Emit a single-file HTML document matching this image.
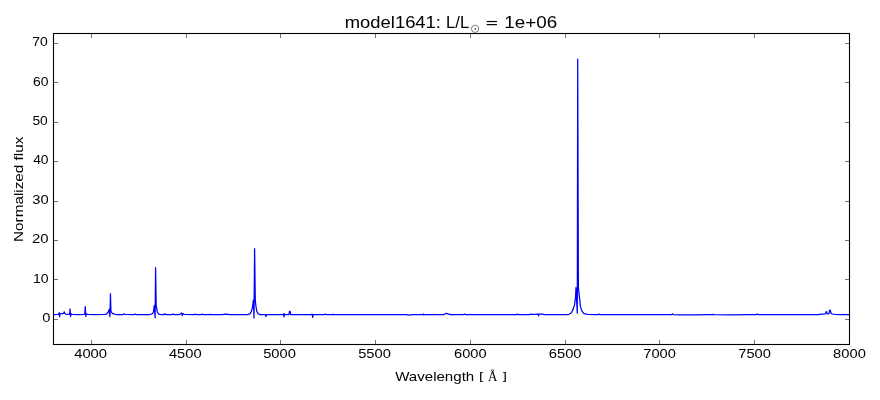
<!DOCTYPE html>
<html><head><meta charset="utf-8"><style>
html,body{margin:0;padding:0;background:#fff;width:880px;height:400px;overflow:hidden}
svg{display:block;will-change:transform}
text{font-family:"Liberation Sans",sans-serif;fill:#000}
</style></head><body>
<svg width="880" height="400" viewBox="0 0 880 400">
<rect width="880" height="400" fill="#fff"/>
<polyline points="53.50,314.60 57.50,314.40 58.70,314.30 59.20,312.70 59.60,316.75 60.10,313.80 62.00,313.60 63.60,313.40 64.20,311.80 64.70,313.30 65.60,314.10 67.50,314.40 69.60,314.10 70.00,308.95 70.50,316.50 71.10,313.90 72.00,314.40 78.00,314.70 83.50,314.50 84.80,314.10 85.25,306.60 85.80,316.50 86.40,313.90 87.50,314.50 95.00,314.70 104.00,314.50 106.50,314.10 108.00,312.50 109.20,309.40 109.90,316.70 110.45,293.70 110.95,311.30 111.75,312.70 113.00,313.70 114.40,314.10 116.00,314.50 123.00,314.50 124.00,313.90 125.00,314.50 134.50,314.60 135.30,314.00 136.20,314.60 148.00,314.70 150.50,314.50 152.50,313.50 153.50,311.70 154.30,305.50 155.10,317.80 155.60,267.70 156.20,306.10 157.25,311.70 158.70,314.10 160.50,314.50 164.00,314.50 164.80,313.70 165.60,314.50 172.30,314.50 173.00,314.00 173.70,314.50 179.50,314.50 181.00,313.50 181.80,313.00 182.30,315.60 182.80,313.60 184.00,314.30 194.50,314.60 195.20,314.10 195.90,314.60 201.50,314.60 202.20,314.10 202.90,314.60 209.50,314.60 210.20,314.20 210.90,314.60 222.00,314.60 226.00,314.10 230.00,314.60 247.50,314.60 249.90,313.80 251.30,311.70 252.30,308.20 253.00,303.30 253.40,300.10 254.00,317.90 254.60,248.70 255.30,300.60 256.20,308.20 256.90,311.70 258.30,313.80 260.00,314.60 265.30,314.60 265.90,316.50 266.50,314.60 283.20,314.50 283.60,313.70 284.00,316.90 284.35,313.90 284.80,314.50 289.00,314.50 289.45,311.30 290.15,311.30 290.60,314.50 311.50,314.60 312.20,314.10 312.70,317.50 313.30,314.50 324.50,314.60 325.20,314.10 325.90,314.60 332.50,314.60 333.20,314.20 333.90,314.60 405.50,314.60 409.30,315.20 412.50,314.60 423.00,314.60 423.40,314.00 423.90,315.00 424.40,314.60 443.50,314.60 445.50,313.70 446.60,313.30 448.00,313.90 450.50,314.70 463.60,314.60 464.40,314.00 465.20,314.60 516.50,314.60 517.30,314.10 518.10,314.60 529.50,314.60 530.30,314.10 531.20,314.30 536.80,314.30 538.20,313.80 538.60,315.80 539.20,314.20 543.00,314.20 543.60,314.40 544.30,314.60 566.00,314.60 569.00,314.30 571.40,312.70 573.20,309.10 574.60,304.60 575.50,297.40 576.00,287.50 577.30,313.10 577.70,59.20 578.40,288.10 579.50,297.40 580.40,306.40 581.80,310.90 584.00,313.60 587.60,314.30 598.00,314.60 599.00,314.10 600.00,314.60 671.70,314.60 672.50,313.80 673.30,314.60 680.00,314.85 695.00,314.85 708.00,314.70 712.00,314.60 713.00,314.40 714.00,314.70 730.00,314.80 750.00,314.70 756.50,314.60 757.25,313.90 758.00,314.60 818.00,314.60 822.00,314.20 825.60,313.80 826.20,311.70 826.60,311.70 827.10,313.60 828.80,313.80 829.70,310.20 830.30,310.20 831.00,313.40 832.50,314.00 835.00,314.40 840.00,314.60 849.50,314.60" fill="none" stroke="#0000ff" stroke-width="1.25" stroke-linejoin="round"/>
<path d="M91.50,344v-4M91.50,34v4M186.50,344v-4M186.50,34v4M280.50,344v-4M280.50,34v4M375.50,344v-4M375.50,34v4M470.50,344v-4M470.50,34v4M565.50,344v-4M565.50,34v4M659.50,344v-4M659.50,34v4M754.50,344v-4M754.50,34v4M849.50,344v-4M849.50,34v4M54,319.50h4M849,319.50h-4M54,279.50h4M849,279.50h-4M54,240.50h4M849,240.50h-4M54,201.50h4M849,201.50h-4M54,161.50h4M849,161.50h-4M54,122.50h4M849,122.50h-4M54,82.50h4M849,82.50h-4M54,43.50h4M849,43.50h-4" stroke="#737373" stroke-width="1" fill="none"/>
<rect x="53.5" y="33.5" width="796" height="311" fill="none" stroke="#000" stroke-width="1.1"/>
<circle cx="475.1" cy="28.8" r="3.65" fill="none" stroke="#000" stroke-width="0.5"/>
<circle cx="475.3" cy="29.1" r="0.75" fill="#000"/>
<rect x="486.7" y="20.95" width="10.3" height="1.15" fill="#000"/>
<rect x="486.7" y="24.05" width="10.3" height="1.15" fill="#000"/>
<text x="74.16" y="357.78" font-size="12.57" style="font-family:'Liberation Sans'" textLength="32.92" lengthAdjust="spacingAndGlyphs">4000</text>
<text x="168.91" y="357.78" font-size="12.57" style="font-family:'Liberation Sans'" textLength="32.66" lengthAdjust="spacingAndGlyphs">4500</text>
<text x="263.16" y="357.78" font-size="12.57" style="font-family:'Liberation Sans'" textLength="32.66" lengthAdjust="spacingAndGlyphs">5000</text>
<text x="358.16" y="357.78" font-size="12.57" style="font-family:'Liberation Sans'" textLength="32.66" lengthAdjust="spacingAndGlyphs">5500</text>
<text x="454.01" y="357.78" font-size="12.57" style="font-family:'Liberation Sans'" textLength="32.57" lengthAdjust="spacingAndGlyphs">6000</text>
<text x="548.75" y="357.78" font-size="12.57" style="font-family:'Liberation Sans'" textLength="32.83" lengthAdjust="spacingAndGlyphs">6500</text>
<text x="643.25" y="357.78" font-size="12.57" style="font-family:'Liberation Sans'" textLength="32.57" lengthAdjust="spacingAndGlyphs">7000</text>
<text x="738.25" y="357.78" font-size="12.57" style="font-family:'Liberation Sans'" textLength="32.57" lengthAdjust="spacingAndGlyphs">7500</text>
<text x="833.11" y="357.78" font-size="12.57" style="font-family:'Liberation Sans'" textLength="32.71" lengthAdjust="spacingAndGlyphs">8000</text>
<text x="32.29" y="45.78" font-size="12.57" style="font-family:'Liberation Sans'" textLength="15.51" lengthAdjust="spacingAndGlyphs">70</text>
<text x="33.04" y="85.78" font-size="12.57" style="font-family:'Liberation Sans'" textLength="15.50" lengthAdjust="spacingAndGlyphs">60</text>
<text x="32.45" y="124.88" font-size="12.36" style="font-family:'Liberation Sans'" textLength="15.34" lengthAdjust="spacingAndGlyphs">50</text>
<text x="33.18" y="163.88" font-size="12.57" style="font-family:'Liberation Sans'" textLength="15.36" lengthAdjust="spacingAndGlyphs">40</text>
<text x="32.19" y="203.78" font-size="12.57" style="font-family:'Liberation Sans'" textLength="16.39" lengthAdjust="spacingAndGlyphs">30</text>
<text x="32.00" y="242.78" font-size="12.57" style="font-family:'Liberation Sans'" textLength="16.58" lengthAdjust="spacingAndGlyphs">20</text>
<text x="32.93" y="282.63" font-size="12.36" style="font-family:'Liberation Sans'" textLength="15.62" lengthAdjust="spacingAndGlyphs">10</text>
<text x="42.18" y="321.63" font-size="12.36" style="font-family:'Liberation Sans'" textLength="8.14" lengthAdjust="spacingAndGlyphs">0</text>
<text x="344.78" y="27.74" font-size="16.20" style="font-family:'Liberation Sans'" textLength="96.20" lengthAdjust="spacingAndGlyphs">model1641:</text>
<text x="446.14" y="27.90" font-size="16.40" style="font-family:'Liberation Sans'" textLength="23.01" lengthAdjust="spacingAndGlyphs">L/L</text>
<text x="504.27" y="27.74" font-size="16.67" style="font-family:'Liberation Sans'" textLength="52.86" lengthAdjust="spacingAndGlyphs">1e+06</text>
<text x="395.18" y="380.91" font-size="13.68" style="font-family:'Liberation Sans'" textLength="79.04" lengthAdjust="spacingAndGlyphs">Wavelength</text>
<text x="478.92" y="379.55" font-size="11.80" style="font-family:'Liberation Sans'" textLength="4.19" lengthAdjust="spacingAndGlyphs">[</text>
<text x="487.97" y="380.75" font-size="14.03" style="font-family:'Liberation Serif'" textLength="9.37" lengthAdjust="spacingAndGlyphs">Å</text>
<text x="502.88" y="379.55" font-size="11.80" style="font-family:'Liberation Sans'" textLength="4.19" lengthAdjust="spacingAndGlyphs">]</text>
<text transform="translate(22.87,242.00) rotate(-90)" font-size="13.62" style="font-family:'Liberation Sans'" textLength="105.42" lengthAdjust="spacingAndGlyphs">Normalized flux</text>
</svg>
</body></html>
